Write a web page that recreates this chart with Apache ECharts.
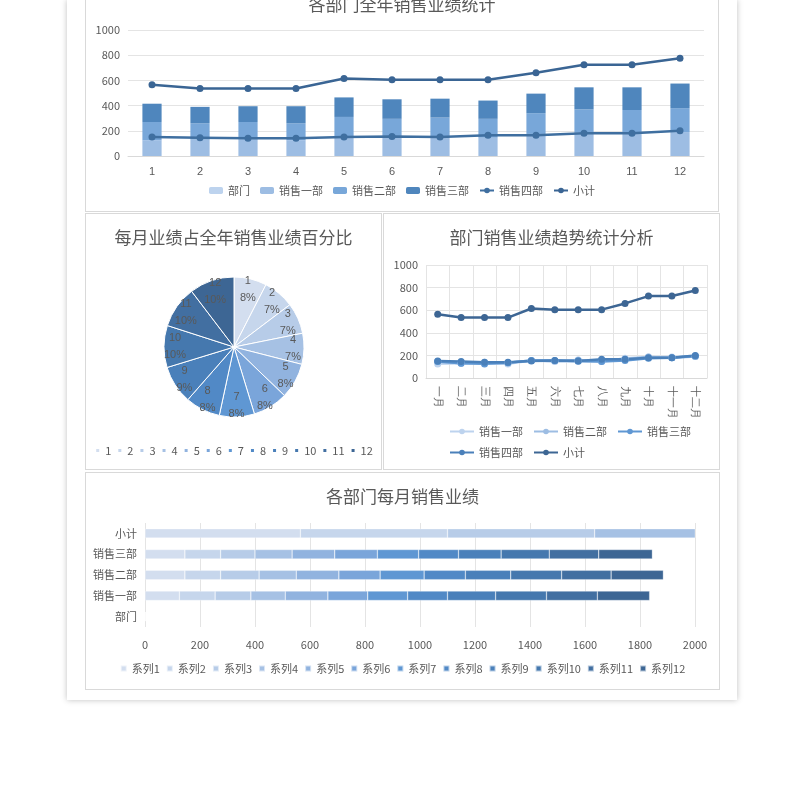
<!DOCTYPE html>
<html><head><meta charset="utf-8">
<script src="https://cdn.jsdelivr.net/npm/echarts@6/dist/echarts.min.js"></script>
<style>
body{margin:0;width:800px;height:788px;background:#fff;position:relative;overflow:hidden;font-family:"Noto Sans CJK SC";}
#panel{position:absolute;left:67px;top:0;width:670px;height:700px;background:#fff;box-shadow:0 0 6px rgba(0,0,0,0.25);}
.box{position:absolute;border:1px solid #d9d9d9;background:#fff;overflow:hidden;}
.box>div{position:absolute;left:0;}
</style></head><body>
<div id="panel"></div>
<div class="box" style="left:85px;top:-2px;width:632px;height:212px"><div id="c1" style="top:-12px;width:632px;height:224px"></div></div>
<div class="box" style="left:85px;top:213px;width:295px;height:255px"><div id="c2" style="top:0;width:295px;height:255px"></div></div>
<div class="box" style="left:383px;top:213px;width:335px;height:255px"><div id="c3" style="top:0;width:335px;height:255px"></div></div>
<div class="box" style="left:85px;top:472px;width:633px;height:216px"><div id="c4" style="top:0;width:633px;height:216px"></div></div>
<script>
const months=['1','2','3','4','5','6','7','8','9','10','11','12'];
const monthNames=['一月','二月','三月','四月','五月','六月','七月','八月','九月','十月','十一月','十二月'];
const dept0=[0,0,0,0,0,0,0,0,0,0,0,0];
const dept1=[125,130,130,125,155,145,145,145,175,185,185,190];
const dept2=[145,130,140,135,155,150,160,150,165,185,180,190];
const dept3=[145,130,125,135,155,155,150,145,155,175,180,195];
const dept4=[150,145,140,140,150,155,150,165,165,180,180,200];
const subtotal=[565,535,535,535,615,605,605,605,660,725,725,775];
const deptNames=['部门','销售一部','销售二部','销售三部','销售四部','小计'];
const barCats=['部门','销售一部','销售二部','销售三部','小计'];
const ramp=['#d3deef','#c6d6ec','#b7cce8','#a6c1e4','#91b3df','#7aa5da','#5f97d3','#5189c6','#4a80ba','#4578ae','#426fa1','#3d6694'];
const F='Noto Sans CJK SC';
const grey='#595959';
const lab={color:grey,fontSize:11,fontFamily:F,formatter:v=>String(v)};
const ax={axisLabel:lab,splitLine:{lineStyle:{color:'#e4e4e4'}},axisLine:{show:false},axisTick:{show:false}};
const title=(t,top)=>({text:t,left:'center',top:top,textStyle:{fontFamily:F,fontWeight:'normal',fontSize:17,color:grey}});
const leg=(extra)=>Object.assign({textStyle:{fontFamily:F,fontSize:11,color:grey},itemWidth:14,itemHeight:7,itemGap:10},extra);

// chart1
const c1=echarts.init(document.getElementById('c1'));
const barCols=['#bdd3ee','#9dbde3','#78a7d9','#4f86bd'];
c1.setOption({animation:false,title:title('各部门全年销售业绩统计',4),
 legend:leg({bottom:10,data:deptNames}),
 grid:{left:42,right:14,top:43,bottom:55},
 xAxis:{type:'category',data:months,axisLine:{lineStyle:{color:'#d9d9d9'}},axisTick:{show:false},axisLabel:{color:grey,fontSize:11,margin:10}},
 yAxis:Object.assign({type:'value',min:0,max:1000,interval:200},ax),
 series:[
  {name:'部门',type:'bar',stack:'a',data:dept0,barWidth:'40%',itemStyle:{color:barCols[0]}},
  {name:'销售一部',type:'bar',stack:'a',data:dept1,itemStyle:{color:barCols[1]}},
  {name:'销售二部',type:'bar',stack:'a',data:dept2,itemStyle:{color:barCols[2]}},
  {name:'销售三部',type:'bar',stack:'a',data:dept3,itemStyle:{color:barCols[3]}},
  {name:'销售四部',type:'line',data:dept4,symbol:'circle',symbolSize:7,itemStyle:{color:'#3f6fa0'},lineStyle:{width:2.5,color:'#3f6fa0'}},
  {name:'小计',type:'line',data:subtotal,symbol:'circle',symbolSize:7,itemStyle:{color:'#3a6594'},lineStyle:{width:2.5,color:'#3a6594'}}
 ]});

// chart2 pie
const c2=echarts.init(document.getElementById('c2'));
const tot=subtotal.reduce((a,b)=>a+b,0);
const pieData=months.map((m,i)=>({name:m,value:subtotal[i],itemStyle:{color:ramp[i]}}));
c2.setOption({animation:false,title:title('每月业绩占全年销售业绩百分比',10),
 legend:leg({bottom:8,itemWidth:5,itemHeight:5,itemGap:5,icon:'rect',data:months}),
 series:[{type:'pie',center:[148,133],radius:70,startAngle:90,clockwise:true,
  data:pieData,itemStyle:{borderColor:'#fff',borderWidth:1},label:{show:false},labelLine:{show:false}},
  {type:'pie',center:[148,133],radius:[0,112],startAngle:90,clockwise:true,silent:true,avoidLabelOverlap:false,
  labelLayout:{hideOverlap:false},
  data:months.map((m,i)=>({name:m,value:subtotal[i],itemStyle:{color:'rgba(0,0,0,0)'}})),
  label:{position:'inside',fontSize:11,color:grey,lineHeight:17,formatter:p=>p.name+'\n'+Math.round(p.value/tot*100)+'%'},
  labelLine:{show:false}}]});

// chart3
const c3=echarts.init(document.getElementById('c3'));
const lc=['#bdd3ee','#9dbde3','#5f97d3','#4a80ba','#3d6694'];
const lineData=[dept1,dept2,dept3,dept4,subtotal];
c3.setOption({animation:false,title:title('部门销售业绩趋势统计分析',10),
 legend:leg({bottom:6,left:60,right:40,itemWidth:24,itemHeight:7,data:deptNames.slice(1)}),
 grid:{left:42,right:12,top:51,bottom:91},
 xAxis:{type:'category',data:monthNames,boundaryGap:true,axisLine:{lineStyle:{color:'#d9d9d9'}},axisTick:{show:false},splitLine:{show:true,lineStyle:{color:'#e4e4e4'}},axisLabel:{color:grey,fontSize:11,rotate:-90,margin:8,interval:0}},
 yAxis:Object.assign({type:'value',min:0,max:1000,interval:200},ax),
 series:deptNames.slice(1).map((n,i)=>({name:n,type:'line',data:lineData[i],symbol:'circle',symbolSize:7,itemStyle:{color:lc[i]},lineStyle:{width:2.5,color:lc[i]}}))});

// chart4
const c4=echarts.init(document.getElementById('c4'));
const rows=[dept0,dept1,dept2,dept3,subtotal];
c4.setOption({animation:false,title:title('各部门每月销售业绩',10),
 legend:leg({bottom:10,itemWidth:6,itemHeight:6,itemGap:6,icon:'rect'}),
 grid:{left:59,right:24,top:50,bottom:62},
 xAxis:Object.assign({type:'value',min:0,max:2000,interval:200},ax,{axisLabel:Object.assign({},lab,{margin:12})}),
 yAxis:{type:'category',data:barCats,axisLine:{show:false},axisTick:{show:false},axisLabel:{color:grey,fontSize:11,fontFamily:F}},
 series:months.map((m,i)=>({name:'系列'+m,type:'bar',stack:'s',barWidth:'45%',data:rows.map(r=>r[i]),itemStyle:{color:ramp[i],borderColor:'rgba(255,255,255,0.6)',borderWidth:0.5}}))});
</script></body></html>
